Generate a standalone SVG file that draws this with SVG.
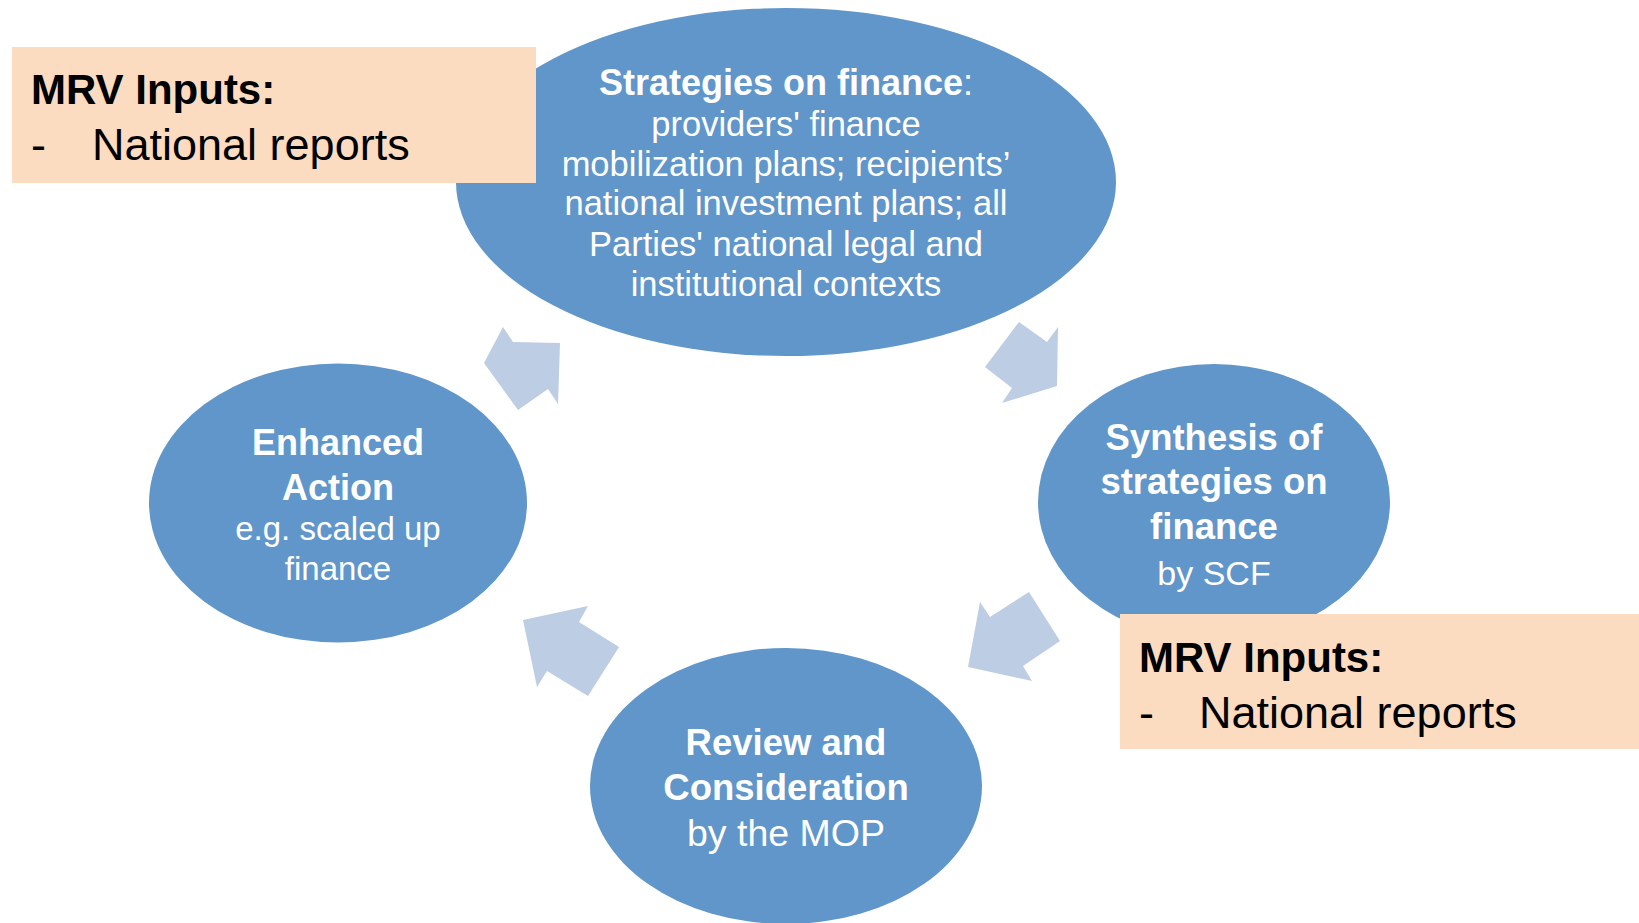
<svg xmlns="http://www.w3.org/2000/svg" width="1639" height="923" viewBox="0 0 1639 923">
<style>
.ell{fill:#6096C9}
.arr{fill:#BDCDE3}
.box{fill:#FBDCC1}
text{font-family:"Liberation Sans",Arial,sans-serif}
.w{fill:#FFFFFF;text-anchor:middle}
.b{font-weight:bold}
.k{fill:#000000}
</style>
<rect width="1639" height="923" fill="#FFFFFF"/>
<g id="connectors">
<polygon class="arr" points="1019,322 1047,342 1058,327 1057,386 1002,403 1012,388 985,367"/>
<polygon class="arr" points="1029,592 1060,641 1023,666 1032,681 968,667 980,602 990,617"/>
<polygon class="arr" points="523,620 588,606 579,622 619,647 588,696 547,671 537,687"/>
<polygon class="arr" points="503,327 513,342 560,343 558,404 548,389 518,410 484,363"/>
</g>
<g id="node-strategies">
<ellipse class="ell" cx="786" cy="182" rx="330" ry="174"/>
<text class="w" x="786" y="95" font-size="36"><tspan class="b">Strategies on finance</tspan>:</text>
<text class="w" x="786" y="136" font-size="34.5">providers' finance</text>
<text class="w" x="786" y="176" font-size="34.5">mobilization plans; recipients’</text>
<text class="w" x="786" y="215" font-size="34.5">national investment plans; all</text>
<text class="w" x="786" y="256" font-size="34.5">Parties' national legal and</text>
<text class="w" x="786" y="296" font-size="34.5">institutional contexts</text>
</g>
<g id="node-synthesis">
<ellipse class="ell" cx="1214" cy="502" rx="176" ry="138"/>
<text class="w b" x="1214" y="450" font-size="36.5">Synthesis of</text>
<text class="w b" x="1214" y="494" font-size="36.5">strategies on</text>
<text class="w b" x="1214" y="539" font-size="36.5">finance</text>
<text class="w" x="1214" y="585" font-size="34">by SCF</text>
</g>
<g id="node-review">
<ellipse class="ell" cx="786" cy="786" rx="196" ry="138"/>
<text class="w b" x="786" y="755" font-size="36.5">Review and</text>
<text class="w b" x="786" y="800" font-size="36.5">Consideration</text>
<text class="w" x="786" y="846" font-size="37.5">by the MOP</text>
</g>
<g id="node-enhanced">
<ellipse class="ell" cx="338" cy="503" rx="189" ry="139.5"/>
<text class="w b" x="338" y="455" font-size="36">Enhanced</text>
<text class="w b" x="338" y="500" font-size="36">Action</text>
<text class="w" x="338" y="540" font-size="33">e.g. scaled up</text>
<text class="w" x="338" y="580" font-size="33">finance</text>
</g>
<g id="mrv-top">
<rect class="box" x="12" y="47" width="524" height="136"/>
<text class="k b" x="31" y="104" font-size="42">MRV Inputs:</text>
<text class="k" x="31" y="160" font-size="45">-</text>
<text class="k" x="92" y="160" font-size="45">National reports</text>
</g>
<g id="mrv-bottom">
<rect class="box" x="1120" y="614" width="519" height="135"/>
<text class="k b" x="1139" y="672" font-size="42">MRV Inputs:</text>
<text class="k" x="1139" y="728" font-size="45">-</text>
<text class="k" x="1199" y="728" font-size="45">National reports</text>
</g>
</svg>
